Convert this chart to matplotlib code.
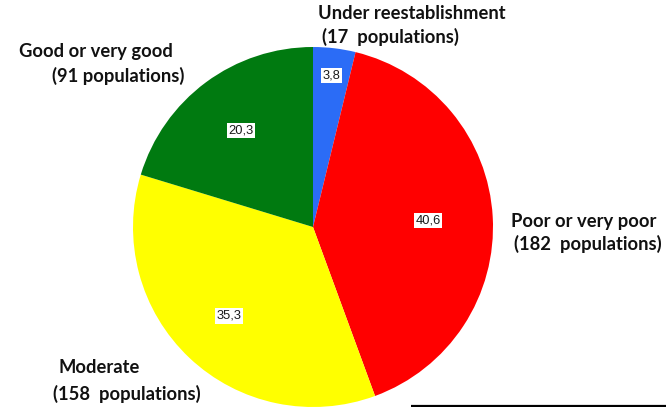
import numpy as np
import matplotlib
matplotlib.use("Agg")
import matplotlib.pyplot as plt

# ---- data ----
categories = ["Under reestablishment", "Poor or very poor", "Moderate", "Good or very good"]
percentages = [3.8, 40.6, 35.3, 20.3]
populations = [17, 182, 158, 91]
pct_labels = ["3,8", "40,6", "35,3", "20,3"]
colors = ["#2b6cf6", "#ff0000", "#ffff00", "#007a10"]

# ---- layout (pixels) ----
W, H = 666, 407
cx, cy, R = 313, 227, 180
pct_radius = [0.85, 0.64, 0.68, 0.67]
# (x_line1, y_baseline1, x_line2, y_baseline2)
cat_pos = [(318, 19, 322, 43), (511, 227, 514, 250), (58, 373, 53, 400), (19, 57, 52, 82)]
gaps = ["  ", "  ", "  ", " "]

fig = plt.figure(figsize=(W / 100, H / 100), dpi=100)
ax = fig.add_axes([0, 0, 1, 1])

wedges, _ = ax.pie(percentages, colors=colors, startangle=90, counterclock=False,
                   center=(cx, H - cy), radius=R, frame=True,
                   wedgeprops=dict(linewidth=0))
ax.set_xlim(0, W)
ax.set_ylim(0, H)
ax.set_aspect("equal")
ax.axis("off")

for w, lab, fr in zip(wedges, pct_labels, pct_radius):
    ang = np.deg2rad((w.theta1 + w.theta2) / 2)
    x = cx + fr * R * np.cos(ang)
    y = (H - cy) + fr * R * np.sin(ang)
    ax.text(x, y, lab, ha="center", va="center", fontsize=9.3,
            family="Liberation Sans", color="#1a1a1a",
            bbox=dict(boxstyle="square,pad=0.12", fc="white", ec="none"))

for cat, n, gap, (x1, y1, x2, y2) in zip(categories, populations, gaps, cat_pos):
    ax.text(x1, H - y1, cat, ha="left", va="baseline", fontsize=13.2,
            family="Lato", weight="bold", color="#111111")
    ax.text(x2, H - y2, f"({n}{gap}populations)", ha="left", va="baseline",
            fontsize=13.2, family="Lato", weight="bold", color="#111111")

# bottom rule
ax.plot([411, W], [H - 406, H - 406], color="black", lw=1.6, solid_capstyle="butt")

fig.savefig("out.png", dpi=100)
